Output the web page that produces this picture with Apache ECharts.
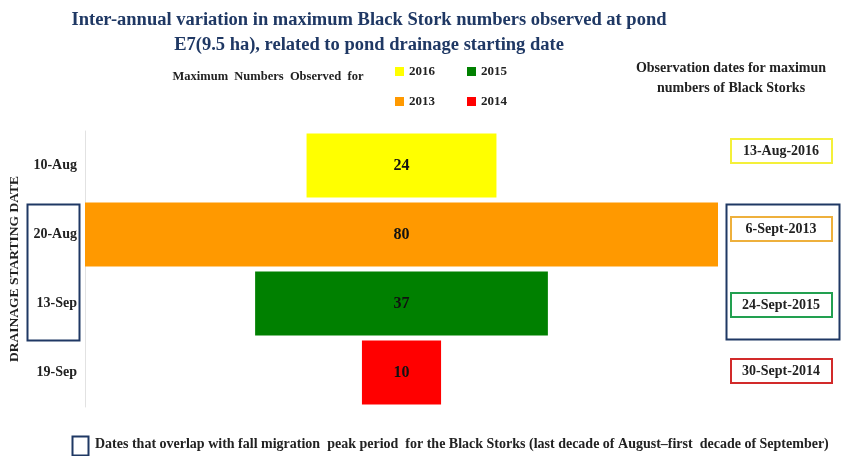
<!DOCTYPE html>
<html>
<head>
<meta charset="utf-8">
<script src="https://cdn.jsdelivr.net/npm/echarts@6/dist/echarts.min.js"></script>
<style>
html,body{margin:0;padding:0;background:#fff;}
#chart{width:842px;height:456px;}
</style>
</head>
<body>
<div id="chart"></div>
<script>
// ---- data ----
const categories = ['10-Aug', '20-Aug', '13-Sep', '19-Sep'];
const years = ['2016', '2013', '2015', '2014'];
const maxNumbers = [24, 80, 37, 10];
const obsDates = ['13-Aug-2016', '6-Sept-2013', '24-Sept-2015', '30-Sept-2014'];
const yearColors = ['#ffff00', '#ff9900', '#008000', '#ff0000'];
const dateBorderColors = ['#f4f03a', '#eeb03c', '#22a050', '#d22a2a'];
const axisMax = 80;

const FONT = '"Liberation Serif", "Times New Roman", serif';
const NAVY = '#1f3864';

const chart = echarts.init(document.getElementById('chart'));

// invisible offset to center each bar
const offsetSeries = {
  name: 'offset', type: 'bar', stack: 'a', silent: true,
  itemStyle: { color: 'transparent' },
  data: maxNumbers.map(v => (axisMax - v) / 2),
  barCategoryGap: '7%'
};
const valueSeries = years.map((y, i) => ({
  name: y, type: 'bar', stack: 'a',
  itemStyle: { color: yearColors[i] },
  barCategoryGap: '7%',
  label: {
    show: true, position: 'inside', color: '#111',
    fontFamily: FONT, fontWeight: 'bold', fontSize: 16,
    formatter: p => p.value
  },
  data: categories.map((c, j) => (j === i ? maxNumbers[i] : null))
}));

// right-hand date boxes
const dateGraphics = [];
const dateBoxTops = [138, 216, 292, 358];
obsDates.forEach((d, i) => {
  dateGraphics.push({
    type: 'rect', left: 730, top: dateBoxTops[i],
    shape: { width: 101, height: 24 },
    style: { fill: '#fff', stroke: dateBorderColors[i], lineWidth: 2 }
  });
  dateGraphics.push({
    type: 'text', x: 781, y: dateBoxTops[i] + 13,
    style: { text: d, fill: '#222', font: 'bold 14px ' + FONT, align: 'center', verticalAlign: 'middle' }
  });
});

const legendCommon = {
  icon: 'rect', itemWidth: 9, itemHeight: 9, itemGap: 32,
  textStyle: { fontFamily: FONT, fontWeight: 'bold', fontSize: 13, color: '#222' },
  selectedMode: false
};

chart.setOption({
  animation: false,
  title: {
    text: 'Inter-annual variation in maximum Black Stork numbers observed at pond\nE7(9.5 ha), related to pond drainage starting date',
    left: 364, top: 3, textAlign: 'center',
    textStyle: { fontFamily: FONT, fontWeight: 'bold', fontSize: 18.5, color: NAVY, lineHeight: 25 }
  },
  legend: [
    Object.assign({ data: ['2016', '2015'], left: 390, top: 60 }, legendCommon),
    Object.assign({ data: ['2013', '2014'], left: 390, top: 90 }, legendCommon)
  ],
  grid: { left: 84, right: 124, top: 131, height: 276, containLabel: false },
  xAxis: { type: 'value', min: 0, max: axisMax, show: false },
  yAxis: {
    type: 'category', inverse: true, data: categories,
    name: 'DRAINAGE STARTING DATE', nameLocation: 'middle', nameGap: 63, nameRotate: 90,
    nameTextStyle: { fontFamily: FONT, fontWeight: 'bold', fontSize: 13.5, color: '#222' },
    axisLine: { show: true, lineStyle: { color: '#e2e2e2', width: 1 } },
    axisTick: { show: false },
    axisLabel: { fontFamily: FONT, fontWeight: 'bold', fontSize: 14, color: '#222', margin: 8 }
  },
  series: [offsetSeries].concat(valueSeries),
  graphic: [
    { type: 'text', x: 268, y: 77, style: { text: 'Maximum  Numbers  Observed  for', fill: '#222', font: 'bold 12.5px ' + FONT, align: 'center', verticalAlign: 'middle' } },
    { type: 'text', x: 731, y: 68, style: { text: 'Observation dates for maximun', fill: '#222', font: 'bold 14px ' + FONT, align: 'center', verticalAlign: 'middle' } },
    { type: 'text', x: 731, y: 88, style: { text: 'numbers of Black Storks', fill: '#222', font: 'bold 14px ' + FONT, align: 'center', verticalAlign: 'middle' } },
    { type: 'rect', left: 25, top: 202, shape: { width: 52, height: 136 }, style: { fill: 'none', stroke: NAVY, lineWidth: 2 } },
    { type: 'rect', left: 724, top: 202, shape: { width: 113, height: 135 }, style: { fill: 'none', stroke: NAVY, lineWidth: 2 } },
    { type: 'rect', left: 70, top: 434, shape: { width: 16, height: 19 }, style: { fill: 'none', stroke: NAVY, lineWidth: 2 } },
    { type: 'text', x: 95, y: 444, style: { text: 'Dates that overlap with fall migration  peak period  for the Black Storks (last decade of August\u2013first  decade of September)', fill: '#222', font: 'bold 14px ' + FONT, align: 'left', verticalAlign: 'middle' } }
  ].concat(dateGraphics)
});
</script>
</body>
</html>
